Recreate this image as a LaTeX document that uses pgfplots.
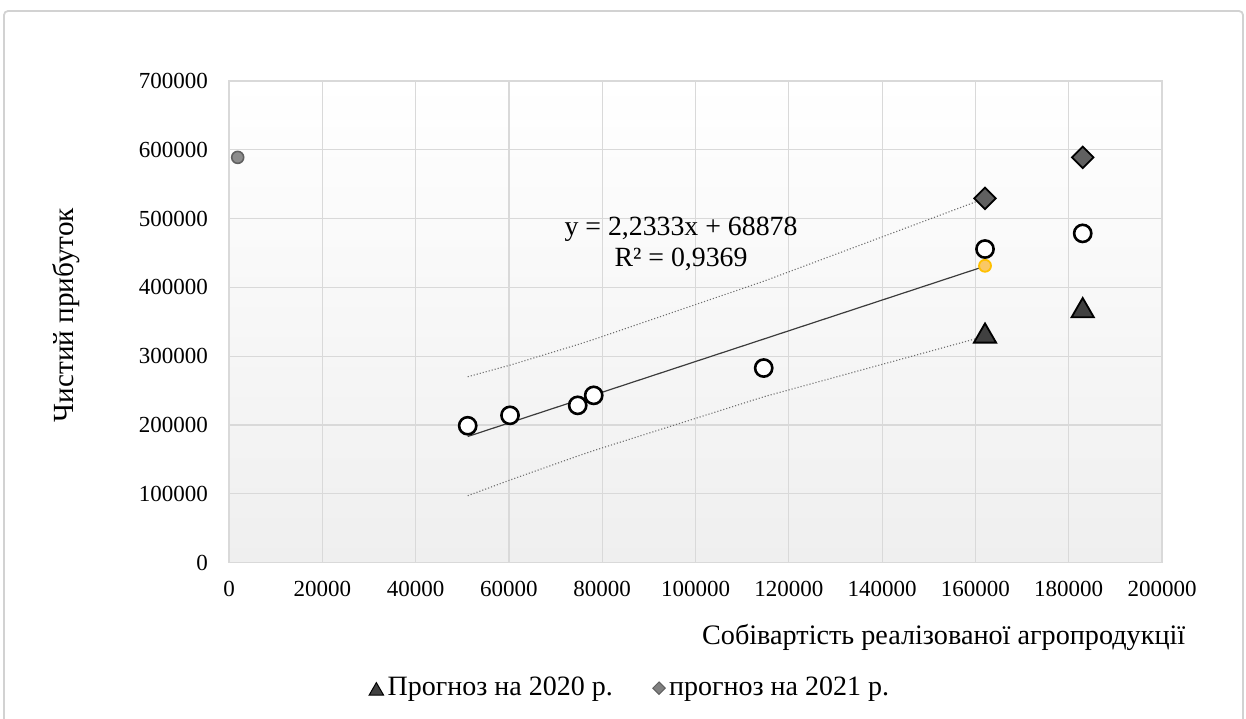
\documentclass[border=0pt]{standalone}
\usepackage{fontspec}
\setmainfont{Liberation Serif}
\usepackage{pgfplots}
\pgfplotsset{compat=1.18}

\definecolor{gridgray}{RGB}{217,217,217}
\definecolor{framegray}{RGB}{210,210,210}
\definecolor{bgbottom}{RGB}{239,239,239}
\definecolor{trendcol}{RGB}{60,60,60}
\definecolor{bandcol}{RGB}{110,110,110}
\definecolor{tri}{RGB}{64,64,64}
\definecolor{dia}{RGB}{96,96,96}
\definecolor{diaLeg}{RGB}{128,128,128}
\definecolor{pt21}{RGB}{140,140,140}
\definecolor{fitfill}{RGB}{250,200,100}
\definecolor{fitedge}{RGB}{255,192,0}

\begin{document}
\begin{tikzpicture}
\useasboundingbox (0pt,0pt) rectangle (623pt,-359pt);
\draw[framegray, line width=0.9pt, rounded corners=2pt]
  (2pt,-420pt) -- (2pt,-5.5pt) -- (621.5pt,-5.5pt) -- (621.5pt,-420pt);
\begin{axis}[
  at={(114.5pt,-281.25pt)}, anchor=south west,
  scale only axis, width=466.5pt, height=240.75pt,
  xmin=0, xmax=200000, ymin=0, ymax=700000,
  xtick={0,20000,...,200000}, ytick={0,100000,...,700000},
  scaled ticks=false,
  /pgf/number format/.cd, fixed, precision=0, 1000 sep={}, assume math mode=true,
  /pgfplots/.cd,
  grid=major, major grid style={gridgray, line width=0.6pt},
  axis line style={gridgray, line width=0.6pt},
  major tick length=0pt,
  tick label style={font=\fontsize{11.5}{13}\selectfont, black},
  xticklabel style={yshift=-6pt},
  yticklabel style={xshift=-7pt},
  axis background/.style={top color=white, bottom color=bgbottom},
  xlabel={Собівартість реалізованої агропродукції},
  ylabel={Чистий прибуток},
  xlabel style={font=\fontsize{14.1}{16}\selectfont,
    at={(axis description cs:0.766,-0.155)}, anchor=center},
  ylabel style={font=\fontsize{14.6}{16}\selectfont,
    at={(axis description cs:-0.174,0.514)}, anchor=center},
  legend style={at={(axis description cs:0.431,-0.261)}, anchor=center,
    draw=none, fill=none, font=\fontsize{14}{16}\selectfont,
    legend columns=2,
    /tikz/every even column/.append style={column sep=18pt}},
  clip=false,
]
% prediction band, upper and lower edges
\addplot[forget plot, bandcol, line width=0.55pt, densely dotted, no markers]
  coordinates {(51170,270100) (60236,286900) (74750,316800) (78180,324300)
               (114620,408900) (162060,529400)};
\addplot[forget plot, bandcol, line width=0.55pt, densely dotted, no markers]
  coordinates {(51170,97100) (60236,119900) (74750,154800) (78180,162700)
               (114620,240900) (162060,329000)};
% linear trend y = 2.2333x + 68878
\addplot[forget plot, trendcol, line width=0.6pt, no markers]
  coordinates {(51170,183154) (162060,430807)};
% observed data
\addplot[forget plot, only marks, mark=*, mark size=4.3pt,
  mark options={fill=white, draw=black, line width=1.3pt}]
  coordinates {(51170,198800) (60236,213950) (74750,228500) (78180,243000)
               (114620,282700) (162060,455700) (183000,478500)};
% fitted value
\addplot[forget plot, only marks, mark=*, mark size=3pt,
  mark options={fill=fitfill, draw=fitedge, line width=0.9pt}]
  coordinates {(162060,431400)};
% separate 2021 point near the axis
\addplot[forget plot, only marks, mark=*, mark size=3pt,
  mark options={fill=pt21, draw=dia, line width=0.8pt}]
  coordinates {(1865,589000)};
% forecast 2020
\addplot[only marks, mark=triangle*, mark size=6.4pt,
  mark options={fill=tri, draw=black, line width=0.9pt},
  legend image code/.code={\draw[mark=triangle*, mark size=4.2pt,
    mark options={fill=tri, draw=black, line width=0.5pt}]
    plot coordinates {(0.2cm,-0.05cm)};}]
  coordinates {(162060,329000) (183000,366000)};
\addlegendentry{Прогноз на 2020 р.}
% forecast 2021
\addplot[only marks, mark=square*, mark size=3.8pt,
  mark options={rotate=45, fill=dia, draw=black, line width=0.9pt},
  legend image code/.code={\draw[mark=square*, mark size=2.2pt,
    mark options={rotate=45, fill=diaLeg, draw=dia, line width=0.5pt}]
    plot coordinates {(0.4cm,0cm)};}]
  coordinates {(162060,529400) (183000,589000)};
\addlegendentry{прогноз на 2021 р.}
% equation of the trend
\node[align=center, font=\fontsize{13.9}{15.8}\selectfont, inner sep=0pt]
  at (axis cs:96900,463000) {y = 2,2333x + 68878\\R² = 0,9369};
\end{axis}
\end{tikzpicture}
\end{document}
